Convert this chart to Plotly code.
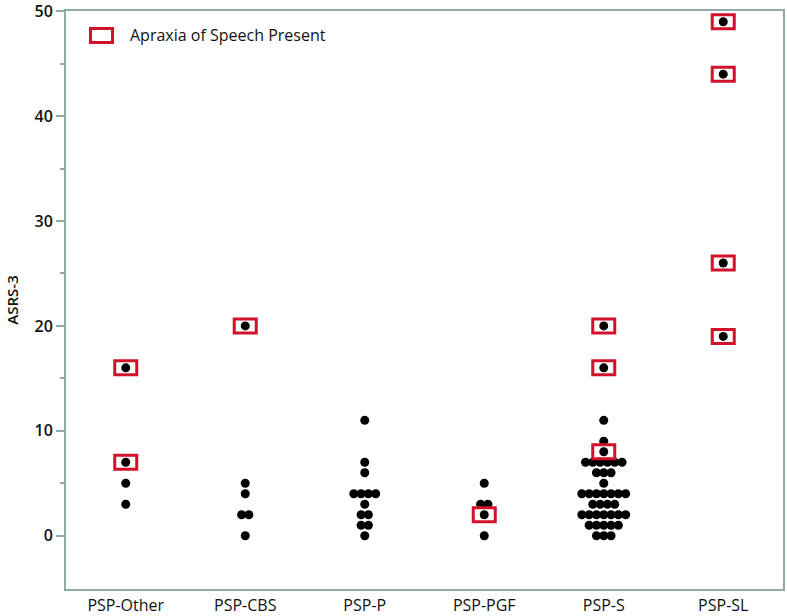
import plotly.graph_objects as go

# ---- data ----
categories = ["PSP-Other", "PSP-CBS", "PSP-P", "PSP-PGF", "PSP-S", "PSP-SL"]

psp_other = [16, 7, 5, 3]
psp_cbs = [20, 5, 4, 2, 2, 0]
psp_p = [11, 7, 6, 4, 4, 4, 4, 3, 2, 2, 1, 1, 0]
psp_pgf = [5, 3, 3, 2, 0]
psp_s = [20, 16, 11, 9, 8,
         7, 7, 7, 7, 7, 7,
         6, 6, 6,
         5,
         4, 4, 4, 4, 4, 4, 4,
         3, 3, 3, 3,
         2, 2, 2, 2, 2, 2, 2,
         1, 1, 1, 1, 1,
         0, 0, 0]
psp_sl = [49, 44, 26, 19]

# Apraxia of speech present (boxed)
aos_other = [16, 7]
aos_cbs = [20]
aos_p = []
aos_pgf = [2]
aos_s = [20, 16, 8]
aos_sl = [49, 44, 26, 19]

y_ticks = [0, 10, 20, 30, 40, 50]
y_minor_ticks = [5, 15, 25, 35, 45]

groups = [psp_other, psp_cbs, psp_p, psp_pgf, psp_s, psp_sl]
aos_groups = [aos_other, aos_cbs, aos_p, aos_pgf, aos_s, aos_sl]

# ---- beeswarm-style horizontal offsets ----
STEP = 7.3 / 119.4  # dot spacing in category units
xs, ys = [], []
for gi, vals in enumerate(groups):
    counts = {}
    for v in vals:
        counts[v] = counts.get(v, 0) + 1
    for v, n in counts.items():
        for k in range(n):
            xs.append(gi + (k - (n - 1) / 2) * STEP)
            ys.append(v)

AXC = "#93aba6"
RED = "#d2112b"

fig = go.Figure()
fig.add_trace(go.Scatter(
    x=xs, y=ys, mode="markers",
    marker=dict(color="black", size=9, line=dict(width=0)),
    showlegend=False, hoverinfo="y",
))

shapes = []
for gi, vals in enumerate(aos_groups):
    for v in vals:
        shapes.append(dict(
            type="rect", xref="x", yref="y",
            xsizemode="pixel", ysizemode="pixel",
            xanchor=gi, yanchor=v,
            x0=-11, x1=11, y0=-7, y1=7,
            line=dict(color=RED, width=3),
            fillcolor="rgba(0,0,0,0)",
        ))

# legend box
shapes.append(dict(
    type="rect", xref="paper", yref="paper",
    x0=0.0342, x1=0.0649, y0=0.9457, y1=0.9698,
    line=dict(color=RED, width=3),
    fillcolor="rgba(0,0,0,0)",
))

fig.update_layout(
    width=787, height=616,
    margin=dict(l=66, r=4, t=11, b=27),
    paper_bgcolor="white", plot_bgcolor="white",
    font=dict(family="Open Sans, DejaVu Sans, sans-serif", color="#111"),
    shapes=shapes,
    annotations=[dict(
        xref="paper", yref="paper", x=0.0865, y=0.9586,
        xanchor="left", yanchor="middle", showarrow=False,
        text="Apraxia of Speech Present",
        font=dict(size=16, color="#111"),
    )],
    showlegend=False,
)

fig.update_xaxes(
    range=[-0.5, 5.5],
    tickmode="array", tickvals=list(range(len(categories))), ticktext=categories,
    ticks="", showgrid=False, zeroline=False,
    showline=True, linecolor=AXC, linewidth=2, mirror=True,
    tickfont=dict(size=16, color="#111"),
    ticklabelstandoff=1,
    ticklabeloverflow="allow",
    automargin=False,
)
fig.update_yaxes(
    range=[-5.08, 50.02],
    tickmode="array", tickvals=y_ticks,
    ticks="outside", ticklen=8, tickcolor=AXC, tickwidth=1.5,
    minor=dict(ticks="outside", ticklen=4, tickvals=y_minor_ticks,
               tickcolor=AXC, tickwidth=1.5),
    showgrid=False, zeroline=False,
    showline=True, linecolor=AXC, linewidth=2, mirror=True,
    tickfont=dict(size=16, color="#111", weight=600),
    ticklabeloverflow="allow",
    title=dict(text="ASRS-3", font=dict(size=15, color="#111", weight=600), standoff=12),
    automargin=False,
)

fig.write_html("out.html", config={"displayModeBar": False},
               post_script="document.body.style.margin='0';")
